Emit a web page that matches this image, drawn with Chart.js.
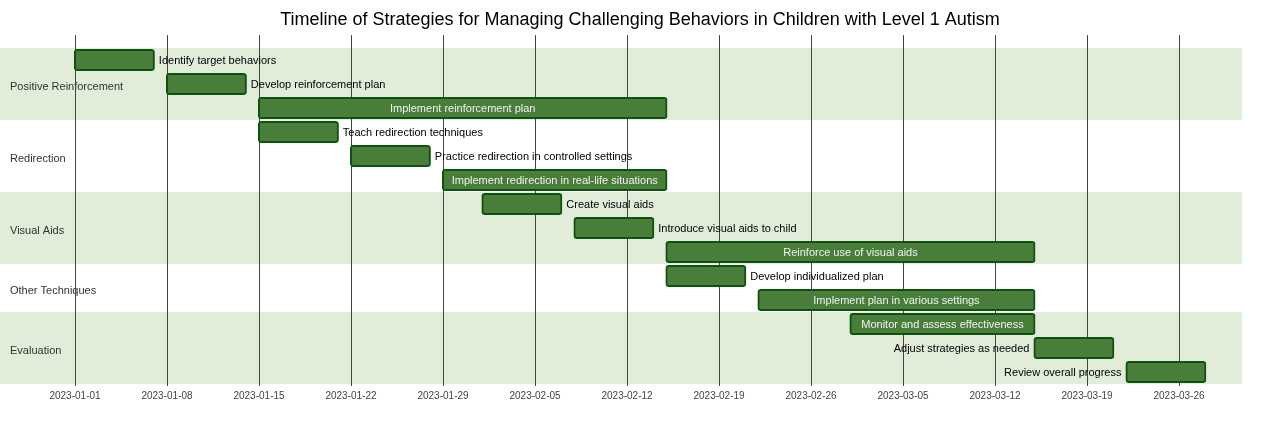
<!DOCTYPE html>
<html>
<head>
<meta charset="utf-8">
<title>Timeline of Strategies</title>
<script src="https://cdn.jsdelivr.net/npm/chart.js@4"></script>
<style>
  html, body { margin: 0; padding: 0; background: #fff; }
  #wrap { width: 1280px; height: 436px; }
</style>
</head>
<body>
<div id="wrap"><canvas id="gantt"></canvas></div>
<script>
const chartTitle = 'Timeline of Strategies for Managing Challenging Behaviors in Children with Level 1 Autism';

const sections = ['Positive Reinforcement', 'Redirection', 'Visual Aids', 'Other Techniques', 'Evaluation'];

const tasks = [
  'Identify target behaviors',
  'Develop reinforcement plan',
  'Implement reinforcement plan',
  'Teach redirection techniques',
  'Practice redirection in controlled settings',
  'Implement redirection in real-life situations',
  'Create visual aids',
  'Introduce visual aids to child',
  'Reinforce use of visual aids',
  'Develop individualized plan',
  'Implement plan in various settings',
  'Monitor and assess effectiveness',
  'Adjust strategies as needed',
  'Review overall progress'
];
const taskSection = [0, 0, 0, 1, 1, 1, 2, 2, 2, 3, 3, 4, 4, 4];
const startDates = [
  '2023-01-01', '2023-01-08', '2023-01-15', '2023-01-15', '2023-01-22', '2023-01-29', '2023-02-01',
  '2023-02-08', '2023-02-15', '2023-02-15', '2023-02-22', '2023-03-01', '2023-03-15', '2023-03-22'
];
const endDates = [
  '2023-01-07', '2023-01-14', '2023-02-15', '2023-01-21', '2023-01-28', '2023-02-15', '2023-02-07',
  '2023-02-14', '2023-03-15', '2023-02-21', '2023-03-15', '2023-03-15', '2023-03-21', '2023-03-28'
];
const tickDates = [
  '2023-01-01', '2023-01-08', '2023-01-15', '2023-01-22', '2023-01-29', '2023-02-05', '2023-02-12',
  '2023-02-19', '2023-02-26', '2023-03-05', '2023-03-12', '2023-03-19', '2023-03-26'
];

// days since the first tick date
const origin = Date.parse(tickDates[0]);
const toDay = d => (Date.parse(d) - origin) / 86400000;

const FONT = '"Liberation Sans", Arial, sans-serif';

const ganttDecor = {
  id: 'ganttDecor',
  beforeDraw(chart) {
    const { ctx, chartArea, scales: { x, y } } = chart;
    const rowH = y.getPixelForValue(1) - y.getPixelForValue(0);
    ctx.save();
    // title
    ctx.fillStyle = '#000';
    ctx.font = '18px ' + FONT;
    ctx.textAlign = 'center';
    ctx.textBaseline = 'middle';
    ctx.fillText(chartTitle, chart.width / 2, 20);

    // section bands + names
    sections.forEach((name, s) => {
      const idx = taskSection.map((v, i) => v === s ? i : -1).filter(i => i >= 0);
      const top = y.getPixelForValue(idx[0]) - rowH / 2;
      const bottom = y.getPixelForValue(idx[idx.length - 1]) + rowH / 2;
      if (s % 2 === 0) {
        ctx.fillStyle = '#e1ecd9';
        ctx.fillRect(chartArea.left, top, chartArea.right - chartArea.left, bottom - top);
      }
      ctx.fillStyle = '#333';
      ctx.font = '11px ' + FONT;
      ctx.textAlign = 'left';
      ctx.fillText(name, 10, (top + bottom) / 2 + 3);
    });

    // week grid lines
    ctx.strokeStyle = '#444';
    ctx.lineWidth = 1;
    x.ticks.forEach(t => {
      const px = Math.round(x.getPixelForValue(t.value)) + 0.5;
      ctx.beginPath();
      ctx.moveTo(px, 35);
      ctx.lineTo(px, chartArea.bottom + 2);
      ctx.stroke();
    });
    ctx.restore();
  },
  afterDatasetsDraw(chart) {
    const { ctx, chartArea, scales: { x, y } } = chart;
    ctx.save();
    ctx.font = '11px ' + FONT;
    ctx.textBaseline = 'middle';
    tasks.forEach((name, i) => {
      const x0 = x.getPixelForValue(toDay(startDates[i]));
      const x1 = x.getPixelForValue(toDay(endDates[i]));
      const cy = y.getPixelForValue(i) + 1;
      const w = ctx.measureText(name).width;
      if (w + 10 < x1 - x0) {
        ctx.fillStyle = '#f2f2f2';
        ctx.textAlign = 'center';
        ctx.fillText(name, (x0 + x1) / 2, cy);
      } else if (x1 + 5 + w < chartArea.right) {
        ctx.fillStyle = '#000';
        ctx.textAlign = 'left';
        ctx.fillText(name, x1 + 5, cy);
      } else {
        ctx.fillStyle = '#000';
        ctx.textAlign = 'right';
        ctx.fillText(name, x0 - 5, cy);
      }
    });
    ctx.restore();
  }
};

new Chart(document.getElementById('gantt'), {
  type: 'bar',
  data: {
    labels: tasks,
    datasets: [{
      data: tasks.map((t, i) => [toDay(startDates[i]), toDay(endDates[i])]),
      backgroundColor: '#487e3a',
      borderColor: '#0f520f',
      borderWidth: 2,
      borderRadius: 3,
      borderSkipped: false,
      barThickness: 20,
      inflateAmount: 1
    }]
  },
  options: {
    indexAxis: 'y',
    responsive: true,
    maintainAspectRatio: false,
    animation: false,
    layout: { padding: { top: 48, left: 0, right: 38, bottom: 28 } },
    plugins: {
      legend: { display: false },
      tooltip: { enabled: false },
      title: { display: false }
    },
    scales: {
      x: {
        type: 'linear',
        position: 'bottom',
        min: -5.7065,
        max: 88.79,
        afterBuildTicks: axis => { axis.ticks = tickDates.map(d => ({ value: toDay(d) })); },
        grid: { display: false, drawTicks: false },
        border: { display: false },
        ticks: {
          autoSkip: false,
          maxRotation: 0,
          padding: 6,
          color: '#444',
          font: { family: FONT, size: 10 },
          callback: (v, i) => tickDates[i]
        }
      },
      y: {
        type: 'category',
        display: false
      }
    }
  },
  plugins: [ganttDecor]
});
</script>
</body>
</html>
